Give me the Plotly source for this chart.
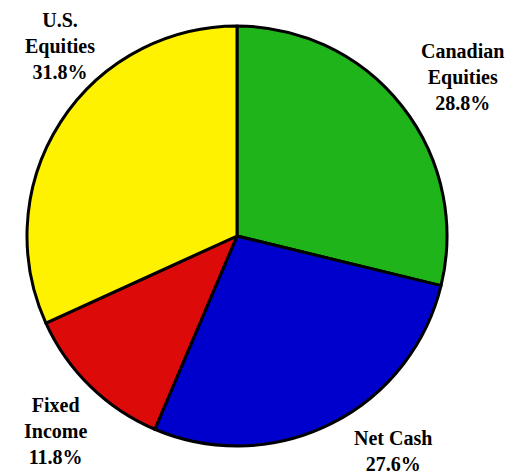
import plotly.graph_objects as go

categories = ["Canadian<br>Equities", "Net Cash", "Fixed<br>Income", "U.S.<br>Equities"]
values = [28.8, 27.6, 11.8, 31.8]
colors = ["#1fb41a", "#0000cc", "#dd0a0a", "#fff200"]

W, H = 513, 472
fig = go.Figure(go.Pie(
    labels=categories, values=values, sort=False, direction="clockwise", rotation=0,
    marker=dict(colors=colors, line=dict(color="black", width=3)),
    textinfo="none", hoverinfo="label+percent", showlegend=False,
    domain=dict(x=[27 / W, 447 / W], y=[1 - 447 / H, 1 - 25 / H]),
))

label_pos = [(462, 77), (393, 451), (55, 431), (60, 46)]
for cat, v, (px, py) in zip(categories, values, label_pos):
    fig.add_annotation(
        x=px / W, y=1 - py / H, xref="paper", yref="paper",
        text=f"<b>{cat}<br>{v:.1f}%</b>", showarrow=False,
        font=dict(family="serif", size=20, color="black"),
        xanchor="center", yanchor="middle", align="center",
    )

fig.update_layout(width=W, height=H, margin=dict(l=0, r=0, t=0, b=0),
                  paper_bgcolor="white", plot_bgcolor="white")
fig.write_html("out.html")
